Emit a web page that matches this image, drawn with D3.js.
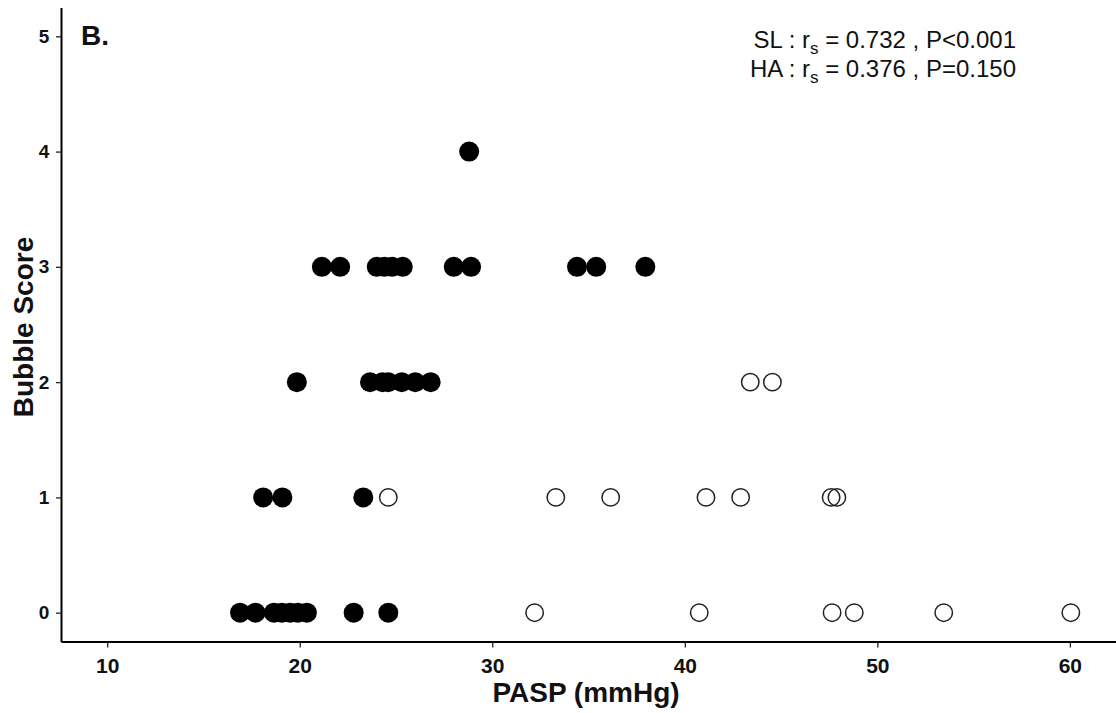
<!DOCTYPE html>
<html>
<head>
<meta charset="utf-8">
<script src="https://cdn.jsdelivr.net/npm/d3@7"></script>
<style>
  body { margin: 0; background: #fff; }
  svg text { font-family: "Liberation Sans", Arial, sans-serif; }
</style>
</head>
<body>
<div id="chart"></div>
<script>
// SL group (filled) : PASP and bubble score
const slPasp  = [28.8, 21.15, 22.1, 24.0, 24.4, 24.8, 25.35, 28.0, 28.9, 34.4, 35.4, 37.95,
                 19.85, 23.65, 24.3, 24.6, 25.3, 26.0, 26.8,
                 18.1, 19.1, 23.3,
                 16.9, 17.7, 18.66, 19.07, 19.5, 19.9, 20.37, 22.8, 24.6];
const slScore = [4, 3, 3, 3, 3, 3, 3, 3, 3, 3, 3, 3,
                 2, 2, 2, 2, 2, 2, 2,
                 1, 1, 1,
                 0, 0, 0, 0, 0, 0, 0, 0, 0];
// HA group (open)
const haPasp  = [43.4, 44.55,
                 24.6, 33.3, 36.15, 41.1, 42.9, 47.6, 47.9,
                 32.2, 40.75, 47.65, 48.8, 53.45, 60.05];
const haScore = [2, 2,
                 1, 1, 1, 1, 1, 1, 1,
                 0, 0, 0, 0, 0, 0];

const xTicks = [10, 20, 30, 40, 50, 60];
const yTicks = [0, 1, 2, 3, 4, 5];

const W = 1116, H = 713;
const svg = d3.select("#chart").append("svg")
  .attr("width", W).attr("height", H);

const x = d3.scaleLinear().domain([7.6, 62.5]).range([61, 1118]);
const y = d3.scaleLinear().domain([-0.25, 5.25]).range([641.5, 7.5]);

// axes
const xAxis = svg.append("g")
  .attr("transform", "translate(0," + y(-0.25) + ")")
  .call(d3.axisBottom(x).tickValues(xTicks).tickFormat(d3.format("d")).tickSize(6).tickSizeOuter(0));
xAxis.select(".domain").attr("stroke", "#000").attr("stroke-width", 2);
xAxis.selectAll(".tick line").attr("stroke", "#222").attr("stroke-width", 1.3);
xAxis.selectAll(".tick text")
  .attr("dy", "1.05em")
  .style("font-size", "21px").style("font-weight", "bold").attr("fill", "#111");

const yAxis = svg.append("g")
  .attr("transform", "translate(" + x(7.6) + ",0)")
  .call(d3.axisLeft(y).tickValues(yTicks).tickFormat(d3.format("d")).tickSize(5).tickSizeOuter(0));
yAxis.select(".domain").attr("stroke", "#000").attr("stroke-width", 2);
yAxis.selectAll(".tick line").attr("stroke", "#222").attr("stroke-width", 1.3);
yAxis.selectAll(".tick text")
  .attr("dx", "-0.2em")
  .style("font-size", "19px").style("font-weight", "bold").attr("fill", "#111");

// points
svg.append("g").selectAll("circle.sl")
  .data(slPasp.map((p, i) => ({p: p, s: slScore[i]})))
  .enter().append("circle")
  .attr("class", "sl")
  .attr("cx", d => x(d.p))
  .attr("cy", d => y(d.s))
  .attr("r", 10)
  .attr("fill", "#000");

svg.append("g").selectAll("circle.ha")
  .data(haPasp.map((p, i) => ({p: p, s: haScore[i]})))
  .enter().append("circle")
  .attr("class", "ha")
  .attr("cx", d => x(d.p))
  .attr("cy", d => y(d.s))
  .attr("r", 8.7)
  .attr("fill", "none")
  .attr("stroke", "#222")
  .attr("stroke-width", 1.5);

// axis titles
svg.append("text")
  .attr("x", 586).attr("y", 702)
  .attr("text-anchor", "middle")
  .style("font-size", "28px").style("font-weight", "bold").attr("fill", "#111")
  .text("PASP (mmHg)");

svg.append("text")
  .attr("transform", "translate(33,327) rotate(-90)")
  .attr("text-anchor", "middle")
  .style("font-size", "28px").style("font-weight", "bold").attr("fill", "#111")
  .text("Bubble Score");

// panel letter
svg.append("text")
  .attr("x", 81).attr("y", 45)
  .style("font-size", "28px").style("font-weight", "bold").attr("fill", "#111")
  .text("B.");

// correlation annotation
const notes = [["SL", "0.732", "P<0.001"], ["HA", "0.376", "P=0.150"]];
notes.forEach((n, i) => {
  const t = svg.append("text")
    .attr("x", 1016).attr("y", 48 + i * 29)
    .attr("text-anchor", "end")
    .style("font-size", "24px").attr("fill", "#111");
  t.append("tspan").text(n[0] + " : r");
  t.append("tspan").attr("dy", 6).style("font-size", "17px").text("s");
  t.append("tspan").attr("dy", -6).text(" = " + n[1] + " , " + n[2]);
});
</script>
</body>
</html>
